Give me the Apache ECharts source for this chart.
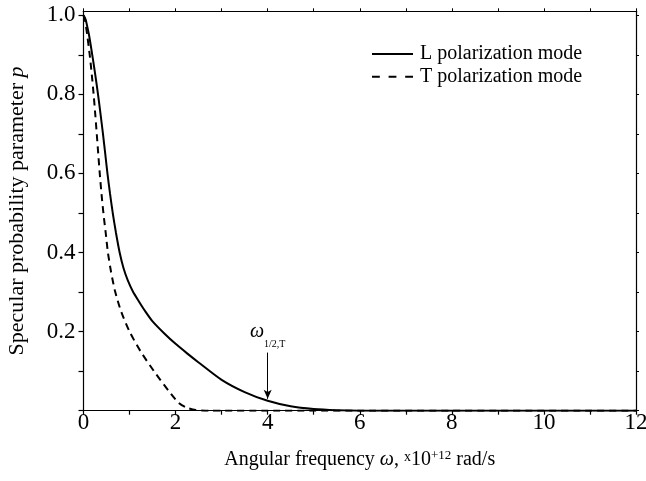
<!DOCTYPE html>
<html><head><meta charset="utf-8">
<script src="https://cdn.jsdelivr.net/npm/echarts@6/dist/echarts.min.js"></script>
<style>html,body{margin:0;padding:0;background:#fff}#c{width:646px;height:481px}</style>
</head><body><div id="c"></div>
<script>
// ---- data ----
const seriesNames = ['L polarization mode', 'T polarization mode'];
const xL = [0, 0.045, 0.075, 0.12, 0.19, 0.255, 0.315, 0.37, 0.423, 0.472, 0.52, 0.575, 0.635, 0.705, 0.785, 0.87, 0.96, 1.07, 1.2, 1.35, 1.5, 1.75, 2.0, 2.25, 2.5, 3.0, 3.5, 4.0, 4.5, 5.0, 5.5, 6.0, 7, 8, 9, 10, 11, 12];
const yL = [1.0, 0.99, 0.975, 0.95, 0.9, 0.85, 0.8, 0.75, 0.7, 0.65, 0.6, 0.55, 0.5, 0.45, 0.4, 0.36, 0.33, 0.302, 0.277, 0.25, 0.226, 0.196, 0.169, 0.145, 0.122, 0.078, 0.047, 0.025, 0.011, 0.004, 0.001, 0, 0, 0, 0, 0, 0, 0];
const xT = [0, 0.03, 0.08, 0.135, 0.18, 0.22, 0.255, 0.288, 0.32, 0.353, 0.39, 0.432, 0.482, 0.53, 0.6, 0.69, 0.82, 1.0, 1.24, 1.53, 1.85, 2.067, 2.237, 2.437, 2.74, 3, 4, 5, 6, 7, 8, 9, 10, 11, 12];
const yT = [1.0, 0.99, 0.95, 0.9, 0.85, 0.8, 0.75, 0.7, 0.65, 0.6, 0.55, 0.5, 0.45, 0.4, 0.35, 0.3, 0.25, 0.2, 0.15, 0.1, 0.05, 0.02, 0.008, 0.002, 0, 0, 0, 0, 0, 0, 0, 0, 0, 0, 0];
const xTickValues = [0, 1, 2, 3, 4, 5, 6, 7, 8, 9, 10, 11, 12];
const xTickLabels = [0, 2, 4, 6, 8, 10, 12];
const yTickValues = [0, 0.1, 0.2, 0.3, 0.4, 0.5, 0.6, 0.7, 0.8, 0.9, 1.0];
const yTickLabels = [0.2, 0.4, 0.6, 0.8, 1.0];
const annotation = { x: 4, yFrom: 0.147, yTo: 0.03, main: 'ω', sub: '1/2,T' };

// ---- chart ----
const FONT = 'Liberation Serif';
const pairs = (xs, ys) => xs.map((x, i) => [x, ys[i]]);
const axisLine = { show: true, onZero: false, lineStyle: { color: '#000', width: 1.2 } };
const chart = echarts.init(document.getElementById('c'), null, { renderer: 'canvas' });
chart.setOption({
  backgroundColor: '#fff',
  animation: false,
  textStyle: { fontFamily: FONT, color: '#000' },
  grid: { left: 83.5, right: 10, top: 11.3, bottom: 70.3, containLabel: false, outerBoundsMode: 'none' },
  legend: {
    orient: 'vertical', left: 372, top: 44, padding: 0, itemWidth: 41, itemHeight: 2, itemGap: 2.7,
    textStyle: { fontFamily: FONT, fontSize: 20, color: '#000', padding: [0, 0, 0, 2] },
    data: [
      { name: seriesNames[0], icon: 'path://M0,0H42V2H0Z' },
      { name: seriesNames[1], icon: 'path://M0,0H8V2H0Z M17,0H25V2H17Z M34,0H42V2H34Z' }
    ]
  },
  xAxis: [
    {
      type: 'value', min: 0, max: 12, position: 'bottom', axisLine: axisLine, splitLine: { show: false },
      name: 'Angular frequency {i|ω}, {x|x}10{sup|+12} rad/s',
      nameLocation: 'middle', nameGap: 38,
      nameTextStyle: {
        fontFamily: FONT, fontSize: 20, color: '#000',
        rich: {
          i: { fontFamily: FONT, fontSize: 20, fontStyle: 'italic', color: '#000' },
          x: { fontFamily: FONT, fontSize: 14, color: '#000', padding: [0, 0, 4, 0] },
          sup: { fontFamily: FONT, fontSize: 13, color: '#000', padding: [0, 0, 9, 0] }
        }
      },
      axisTick: { show: true, inside: false, length: 4, customValues: xTickValues, lineStyle: { color: '#000', width: 1.2 } },
      axisLabel: { show: true, margin: 1, fontFamily: FONT, fontSize: 23, color: '#000', customValues: xTickLabels }
    },
    {
      type: 'value', min: 0, max: 12, position: 'top', axisLine: axisLine, splitLine: { show: false },
      axisTick: { show: true, inside: false, length: 3, customValues: xTickValues, lineStyle: { color: '#000', width: 1 } },
      axisLabel: { show: false }
    }
  ],
  yAxis: [
    {
      type: 'value', min: 0, max: 1.01, position: 'left', axisLine: axisLine, splitLine: { show: false },
      name: 'Specular probability parameter {i|p}',
      nameLocation: 'middle', nameGap: 55,
      nameTextStyle: {
        fontFamily: FONT, fontSize: 22, color: '#000',
        rich: { i: { fontFamily: FONT, fontSize: 22, fontStyle: 'italic', color: '#000' } }
      },
      axisTick: { show: true, inside: false, length: 5, customValues: yTickValues, lineStyle: { color: '#000', width: 1.2 } },
      axisLabel: { show: true, margin: 8, fontFamily: FONT, fontSize: 23, color: '#000', customValues: yTickLabels,
        formatter: v => v.toFixed(1) }
    },
    {
      type: 'value', min: 0, max: 1.01, position: 'right', axisLine: axisLine, splitLine: { show: false },
      axisTick: { show: true, inside: false, length: 3, customValues: yTickValues, lineStyle: { color: '#000', width: 1 } },
      axisLabel: { show: false }
    }
  ],
  series: [
    {
      name: seriesNames[0], type: 'line', xAxisIndex: 0, yAxisIndex: 0,
      data: pairs(xL, yL), showSymbol: false, symbol: 'none', smooth: 0.25,
      lineStyle: { color: '#000', width: 2, type: 'solid' }, itemStyle: { color: '#000' },
      markLine: {
        silent: true, symbol: ['none', 'arrow'], symbolSize: [6, 9],
        lineStyle: { color: '#000', width: 1, type: 'solid' },
        label: {
          show: true, position: 'start', distance: 3,
          formatter: '{w|' + annotation.main + '}{s|' + annotation.sub + '}',
          rich: {
            w: { fontFamily: FONT, fontSize: 20, fontStyle: 'italic', color: '#000', verticalAlign: 'bottom', padding: [0, 0, 8, 0] },
            s: { fontFamily: FONT, fontSize: 10, color: '#000', verticalAlign: 'bottom' }
          }
        },
        data: [[{ coord: [annotation.x, annotation.yFrom] }, { coord: [annotation.x, annotation.yTo] }]]
      }
    },
    {
      name: seriesNames[1], type: 'line', xAxisIndex: 0, yAxisIndex: 0,
      data: pairs(xT, yT), showSymbol: false, symbol: 'none', smooth: 0.25,
      lineStyle: { color: '#000', width: 2, type: [7, 5] }, itemStyle: { color: '#000' }
    }
  ]
});
</script>
</body></html>
